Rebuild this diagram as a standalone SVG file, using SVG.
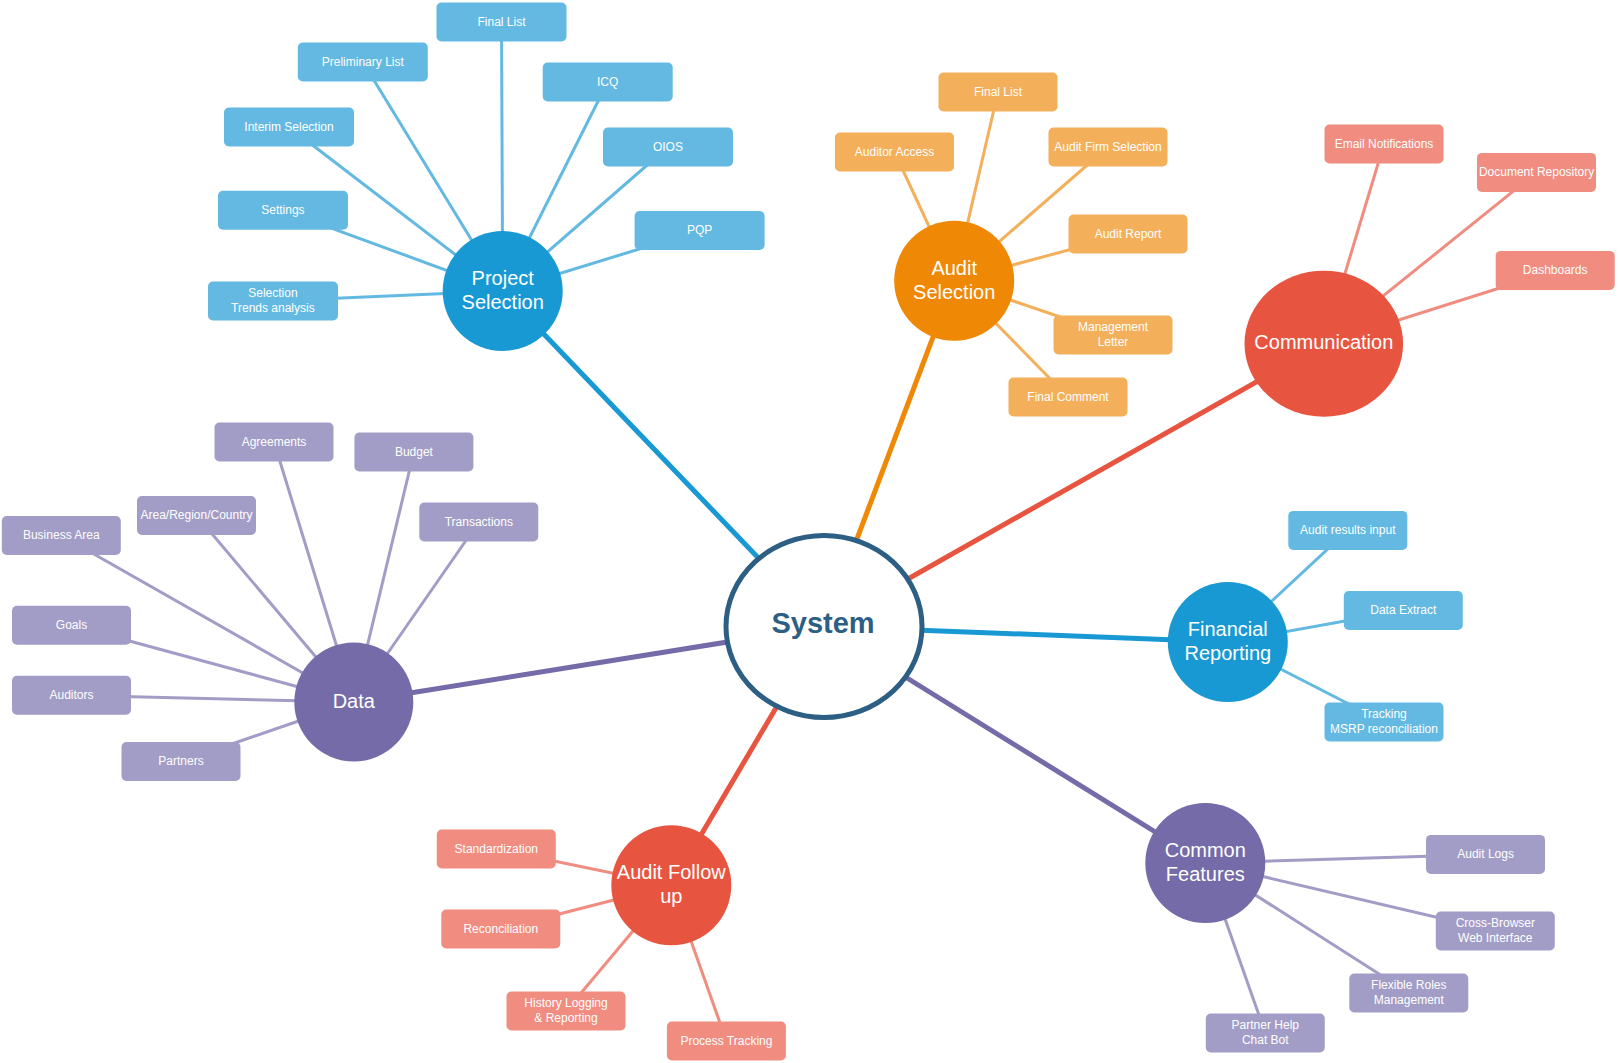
<svg xmlns="http://www.w3.org/2000/svg" width="1618" height="1063" viewBox="0 0 1618 1063">
<style>
text{font-family:"Liberation Sans",Arial,sans-serif;fill:#fff;text-anchor:middle}
.lf{font-size:12px}
.hb{font-size:20px}
.sys{font-size:29px;font-weight:bold;fill:#2d5f84}
.b{fill:#1899d3}.bl{fill:#63b9e1}
.o{fill:#ef8805}.ol{fill:#f4af5a}
.r{fill:#e75541}.rl{fill:#f08c80}
.p{fill:#746ba8}.pl{fill:#a29dc6}
.cb{stroke:#1899d3}.cbl{stroke:#63b9e1}
.co{stroke:#ef8805}.col{stroke:#f4af5a}
.cr{stroke:#e75541}.crl{stroke:#f08c80}
.cp{stroke:#746ba8}.cpl{stroke:#a29dc6}
.main line{stroke-width:5;fill:none}
.sub line{stroke-width:3;fill:none}
</style>
<rect width="1618" height="1063" fill="#fff"/>
<g id="connectors">
<g class="main">
<line class="cb" x1="824" y1="626.5" x2="502.7" y2="291"/>
<line class="co" x1="824" y1="626.5" x2="954.2" y2="280.8"/>
<line class="cr" x1="824" y1="626.5" x2="1323.8" y2="343.7"/>
<line class="cb" x1="824" y1="626.5" x2="1227.8" y2="642"/>
<line class="cp" x1="824" y1="626.5" x2="1205.3" y2="863"/>
<line class="cr" x1="824" y1="626.5" x2="671.3" y2="885.3"/>
<line class="cp" x1="824" y1="626.5" x2="353.8" y2="702"/>
</g>
<g class="sub">
<line class="cbl" x1="502.7" y1="291" x2="501.5" y2="22"/>
<line class="cbl" x1="502.7" y1="291" x2="362.8" y2="62"/>
<line class="cbl" x1="502.7" y1="291" x2="607.7" y2="82"/>
<line class="cbl" x1="502.7" y1="291" x2="289" y2="127"/>
<line class="cbl" x1="502.7" y1="291" x2="667.9" y2="147"/>
<line class="cbl" x1="502.7" y1="291" x2="282.9" y2="210.3"/>
<line class="cbl" x1="502.7" y1="291" x2="699.6" y2="230.5"/>
<line class="cbl" x1="502.7" y1="291" x2="272.9" y2="301"/>
<line class="col" x1="954.2" y1="280.8" x2="998" y2="92"/>
<line class="col" x1="954.2" y1="280.8" x2="894.5" y2="152"/>
<line class="col" x1="954.2" y1="280.8" x2="1108" y2="147"/>
<line class="col" x1="954.2" y1="280.8" x2="1128" y2="234"/>
<line class="col" x1="954.2" y1="280.8" x2="1113" y2="335"/>
<line class="col" x1="954.2" y1="280.8" x2="1068" y2="397"/>
<line class="crl" x1="1323.8" y1="343.7" x2="1384" y2="144"/>
<line class="crl" x1="1323.8" y1="343.7" x2="1536.6" y2="172.4"/>
<line class="crl" x1="1323.8" y1="343.7" x2="1555.2" y2="270.4"/>
<line class="cbl" x1="1227.8" y1="642" x2="1347.8" y2="530.4"/>
<line class="cbl" x1="1227.8" y1="642" x2="1403.3" y2="610.5"/>
<line class="cbl" x1="1227.8" y1="642" x2="1384" y2="722"/>
<line class="cpl" x1="1205.3" y1="863" x2="1485.6" y2="854.4"/>
<line class="cpl" x1="1205.3" y1="863" x2="1495.3" y2="931"/>
<line class="cpl" x1="1205.3" y1="863" x2="1408.8" y2="993"/>
<line class="cpl" x1="1205.3" y1="863" x2="1265.3" y2="1033"/>
<line class="crl" x1="671.3" y1="885.3" x2="496.3" y2="849"/>
<line class="crl" x1="671.3" y1="885.3" x2="500.8" y2="929"/>
<line class="crl" x1="671.3" y1="885.3" x2="566" y2="1011"/>
<line class="crl" x1="671.3" y1="885.3" x2="726.4" y2="1041"/>
<line class="cpl" x1="353.8" y1="702" x2="274" y2="442"/>
<line class="cpl" x1="353.8" y1="702" x2="413.9" y2="452"/>
<line class="cpl" x1="353.8" y1="702" x2="196.5" y2="515.5"/>
<line class="cpl" x1="353.8" y1="702" x2="478.8" y2="522"/>
<line class="cpl" x1="353.8" y1="702" x2="61.3" y2="535.5"/>
<line class="cpl" x1="353.8" y1="702" x2="71.5" y2="625.3"/>
<line class="cpl" x1="353.8" y1="702" x2="71.5" y2="695.3"/>
<line class="cpl" x1="353.8" y1="702" x2="181" y2="761.5"/>
</g>
</g>

<!-- Project Selection leaves -->
<g id="ps-final-list"><rect class="bl" x="436.5" y="2.5" width="130" height="39" rx="5"/><text class="lf" x="501.5" y="25.5">Final List</text></g>
<g id="ps-preliminary-list"><rect class="bl" x="297.8" y="42.5" width="130" height="39" rx="5"/><text class="lf" x="362.8" y="65.5">Preliminary List</text></g>
<g id="ps-icq"><rect class="bl" x="542.7" y="62.5" width="130" height="39" rx="5"/><text class="lf" x="607.7" y="85.5">ICQ</text></g>
<g id="ps-interim"><rect class="bl" x="224" y="107.5" width="130" height="39" rx="5"/><text class="lf" x="289" y="130.5">Interim Selection</text></g>
<g id="ps-oios"><rect class="bl" x="603" y="127.5" width="130" height="39" rx="5"/><text class="lf" x="667.9" y="150.5">OIOS</text></g>
<g id="ps-settings"><rect class="bl" x="218" y="190.8" width="130" height="39" rx="5"/><text class="lf" x="282.9" y="213.8">Settings</text></g>
<g id="ps-pqp"><rect class="bl" x="634.6" y="211" width="130" height="39" rx="5"/><text class="lf" x="699.6" y="234">PQP</text></g>
<g id="ps-trends"><rect class="bl" x="208" y="281.5" width="130" height="39" rx="5"/><text class="lf" x="272.9" y="297.2">Selection</text><text class="lf" x="272.9" y="311.6">Trends analysis</text></g>

<!-- Audit Selection leaves -->
<g id="as-final-list"><rect class="ol" x="938.5" y="72.5" width="119" height="39" rx="5"/><text class="lf" x="998" y="95.5">Final List</text></g>
<g id="as-auditor-access"><rect class="ol" x="835" y="132.5" width="119" height="39" rx="5"/><text class="lf" x="894.5" y="155.5">Auditor Access</text></g>
<g id="as-firm-selection"><rect class="ol" x="1048.5" y="127.5" width="119" height="39" rx="5"/><text class="lf" x="1108" y="150.5">Audit Firm Selection</text></g>
<g id="as-audit-report"><rect class="ol" x="1068.5" y="214.5" width="119" height="39" rx="5"/><text class="lf" x="1128" y="237.5">Audit Report</text></g>
<g id="as-management-letter"><rect class="ol" x="1053.5" y="315.5" width="119" height="39" rx="5"/><text class="lf" x="1113" y="331.2">Management</text><text class="lf" x="1113" y="345.6">Letter</text></g>
<g id="as-final-comment"><rect class="ol" x="1008.5" y="377.5" width="119" height="39" rx="5"/><text class="lf" x="1068" y="400.5">Final Comment</text></g>

<!-- Communication leaves -->
<g id="cm-email"><rect class="rl" x="1324.5" y="124.5" width="119" height="39" rx="5"/><text class="lf" x="1384" y="147.5">Email Notifications</text></g>
<g id="cm-docrepo"><rect class="rl" x="1477" y="152.9" width="119" height="39" rx="5"/><text class="lf" x="1536.6" y="175.9">Document Repository</text></g>
<g id="cm-dashboards"><rect class="rl" x="1495.7" y="250.9" width="119" height="39" rx="5"/><text class="lf" x="1555.2" y="273.9">Dashboards</text></g>

<!-- Financial Reporting leaves -->
<g id="fr-audit-results"><rect class="bl" x="1288.3" y="510.9" width="119" height="39" rx="5"/><text class="lf" x="1347.8" y="533.9">Audit results input</text></g>
<g id="fr-data-extract"><rect class="bl" x="1343.8" y="591" width="119" height="39" rx="5"/><text class="lf" x="1403.3" y="614">Data Extract</text></g>
<g id="fr-tracking"><rect class="bl" x="1324.5" y="702.5" width="119" height="39" rx="5"/><text class="lf" x="1384" y="718.2">Tracking</text><text class="lf" x="1384" y="732.6">MSRP reconciliation</text></g>

<!-- Common Features leaves -->
<g id="cf-audit-logs"><rect class="pl" x="1426" y="834.9" width="119" height="39" rx="5"/><text class="lf" x="1485.6" y="857.9">Audit Logs</text></g>
<g id="cf-cross-browser"><rect class="pl" x="1435.8" y="911.5" width="119" height="39" rx="5"/><text class="lf" x="1495.3" y="927.2">Cross-Browser</text><text class="lf" x="1495.3" y="941.6">Web Interface</text></g>
<g id="cf-flexible-roles"><rect class="pl" x="1349.3" y="973.5" width="119" height="39" rx="5"/><text class="lf" x="1408.8" y="989.2">Flexible Roles</text><text class="lf" x="1408.8" y="1003.6">Management</text></g>
<g id="cf-partner-help"><rect class="pl" x="1205.8" y="1013.5" width="119" height="39" rx="5"/><text class="lf" x="1265.3" y="1029.2">Partner Help</text><text class="lf" x="1265.3" y="1043.6">Chat Bot</text></g>

<!-- Audit Follow up leaves -->
<g id="af-standardization"><rect class="rl" x="436.8" y="829.5" width="119" height="39" rx="5"/><text class="lf" x="496.3" y="852.5">Standardization</text></g>
<g id="af-reconciliation"><rect class="rl" x="441.3" y="909.5" width="119" height="39" rx="5"/><text class="lf" x="500.8" y="932.5">Reconciliation</text></g>
<g id="af-history"><rect class="rl" x="506.5" y="991.5" width="119" height="39" rx="5"/><text class="lf" x="566" y="1007.2">History Logging</text><text class="lf" x="566" y="1021.6">&amp; Reporting</text></g>
<g id="af-process-tracking"><rect class="rl" x="666.9" y="1021.5" width="119" height="39" rx="5"/><text class="lf" x="726.4" y="1044.5">Process Tracking</text></g>

<!-- Data leaves -->
<g id="d-agreements"><rect class="pl" x="214.5" y="422.5" width="119" height="39" rx="5"/><text class="lf" x="274" y="445.5">Agreements</text></g>
<g id="d-budget"><rect class="pl" x="354.4" y="432.5" width="119" height="39" rx="5"/><text class="lf" x="413.9" y="455.5">Budget</text></g>
<g id="d-area"><rect class="pl" x="137" y="496" width="119" height="39" rx="5"/><text class="lf" x="196.5" y="519">Area/Region/Country</text></g>
<g id="d-transactions"><rect class="pl" x="419.3" y="502.5" width="119" height="39" rx="5"/><text class="lf" x="478.8" y="525.5">Transactions</text></g>
<g id="d-business-area"><rect class="pl" x="1.8" y="516" width="119" height="39" rx="5"/><text class="lf" x="61.3" y="539">Business Area</text></g>
<g id="d-goals"><rect class="pl" x="12" y="605.8" width="119" height="39" rx="5"/><text class="lf" x="71.5" y="628.8">Goals</text></g>
<g id="d-auditors"><rect class="pl" x="12" y="675.8" width="119" height="39" rx="5"/><text class="lf" x="71.5" y="698.8">Auditors</text></g>
<g id="d-partners"><rect class="pl" x="121.5" y="742" width="119" height="39" rx="5"/><text class="lf" x="181" y="765">Partners</text></g>

<!-- Hubs -->
<g id="project-selection"><circle class="b" cx="502.7" cy="291" r="60"/><text class="hb" x="502.7" y="285">Project</text><text class="hb" x="502.7" y="309">Selection</text></g>
<g id="audit-selection"><circle class="o" cx="954.2" cy="280.8" r="60"/><text class="hb" x="954.2" y="274.8">Audit</text><text class="hb" x="954.2" y="298.8">Selection</text></g>
<g id="communication"><ellipse class="r" cx="1323.8" cy="343.7" rx="79.3" ry="73"/><text class="hb" x="1323.8" y="349">Communication</text></g>
<g id="financial-reporting"><circle class="b" cx="1227.8" cy="642" r="60"/><text class="hb" x="1227.8" y="636">Financial</text><text class="hb" x="1227.8" y="660">Reporting</text></g>
<g id="common-features"><circle class="p" cx="1205.3" cy="863" r="60"/><text class="hb" x="1205.3" y="857">Common</text><text class="hb" x="1205.3" y="881">Features</text></g>
<g id="audit-follow-up"><circle class="r" cx="671.3" cy="885.3" r="60"/><text class="hb" x="671.3" y="879.3">Audit Follow</text><text class="hb" x="671.3" y="903.3">up</text></g>
<g id="data"><circle class="p" cx="353.8" cy="702" r="59.5"/><text class="hb" x="353.8" y="708">Data</text></g>
<g id="system"><ellipse cx="824" cy="626.5" rx="98" ry="91" fill="#fff" stroke="#2d5f84" stroke-width="5"/><text class="sys" x="823" y="633">System</text></g>
</svg>
